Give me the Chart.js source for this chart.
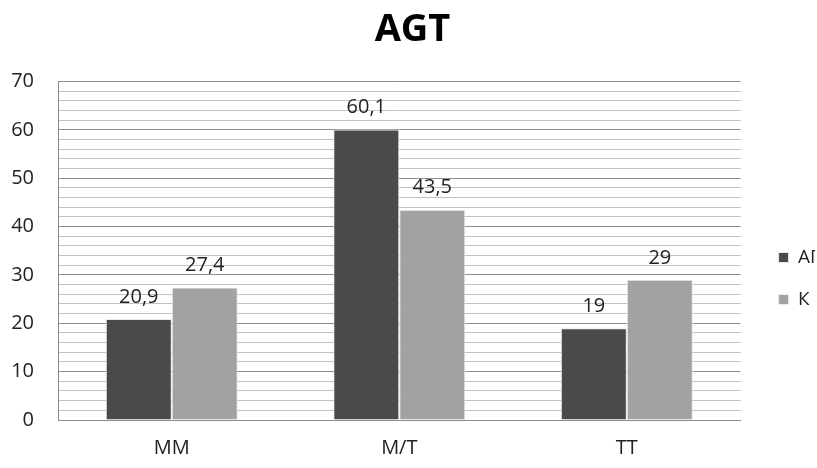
<!DOCTYPE html>
<html>
<head>
<meta charset="utf-8">
<script src="https://cdn.jsdelivr.net/npm/chart.js@4"></script>
<style>
  html, body { margin: 0; padding: 0; background: #fff; overflow: hidden; }
  #wrap { width: 815px; height: 468px; }
</style>
</head>
<body>
<div id="wrap"><canvas id="agtChart"></canvas></div>
<script>
//-----------------------------------------------------------------------------
// Chart data: genotype groups and the share for each group (АГ vs К).
//-----------------------------------------------------------------------------

const categories = ["MM", "M/T", "TT"];
const agValues = [20.9, 60.1, 19];
const kValues = [27.4, 43.5, 29];
const seriesNames = ["АГ", "К"];

const font = "'Open Sans', 'DejaVu Sans', sans-serif";

//-----------------------------------------------------------------------------
// Small plugin that writes the value above each bar, with a decimal comma.
//-----------------------------------------------------------------------------

const valueLabels = {
  id: "valueLabels",
  afterDatasetsDraw(chart) {
    const ctx = chart.ctx;
    ctx.save();
    ctx.font = "20px " + font;
    ctx.fillStyle = "#222";
    ctx.textAlign = "center";
    ctx.textBaseline = "bottom";
    chart.data.datasets.forEach((ds, i) => {
      chart.getDatasetMeta(i).data.forEach((bar, j) => {
        const text = String(ds.data[j]).replace(".", ",");
        ctx.fillText(text, bar.x, bar.y - 12);
      });
    });
    ctx.restore();
  },
};

//-----------------------------------------------------------------------------
// Nudge the legend away from the plot (the original had a wider gap there).
//-----------------------------------------------------------------------------

const legendNudge = {
  id: "legendNudge",
  afterLayout(chart) {
    const l = chart.legend;
    l.left += 15;
    l.right += 15;
    l.top += 42;
    l.bottom += 42;
  },
};

const ctx = document.getElementById("agtChart").getContext("2d");

new Chart(ctx, {
  type: "bar",
  data: {
    labels: categories,
    datasets: [
      {
        label: seriesNames[0],
        data: agValues,
        backgroundColor: "#4a4a4a",
        borderColor: "#e8e8e8",
        borderWidth: 1,
        categoryPercentage: 0.58,
        barPercentage: 1.0,
      },
      {
        label: seriesNames[1],
        data: kValues,
        backgroundColor: "#a2a2a2",
        borderColor: "#ececec",
        borderWidth: 1,
        categoryPercentage: 0.58,
        barPercentage: 1.0,
      },
    ],
  },
  options: {
    responsive: true,
    maintainAspectRatio: false,
    animation: false,
    layout: { padding: { left: 10, top: 5, right: 0, bottom: 0 } },
    plugins: {
      title: {
        display: true,
        text: "AGT",
        color: "#000",
        font: { family: font, size: 38, weight: "bold" },
        padding: { top: 2, bottom: 29 },
      },
      legend: {
        position: "right",
        labels: {
          color: "#222",
          font: { family: font, size: 19 },
          boxWidth: 10,
          boxHeight: 10,
          padding: 23,
        },
      },
      tooltip: { enabled: false },
    },
    scales: {
      x: {
        grid: { display: false },
        border: { display: true, color: "#8c8c8c", width: 1 },
        ticks: {
          color: "#222",
          font: { family: font, size: 20 },
          padding: 8,
        },
        afterFit: (scale) => {
          scale.height = 48;
        },
      },
      y: {
        min: 0,
        max: 70,
        border: { display: true, color: "#8c8c8c", width: 1 },
        grid: {
          drawTicks: false,
          color: (c) => (c.tick.value % 10 === 0 ? "#8f8f8f" : "#c2c2c2"),
          lineWidth: 1,
        },
        ticks: {
          stepSize: 2,
          autoSkip: false,
          padding: 24,
          color: "#222",
          font: { family: font, size: 20 },
          callback: (v) => (v % 10 === 0 ? v : ""),
        },
        afterFit: (scale) => {
          scale.width = 48;
        },
      },
    },
  },
  plugins: [valueLabels, legendNudge],
});
</script>
</body>
</html>
